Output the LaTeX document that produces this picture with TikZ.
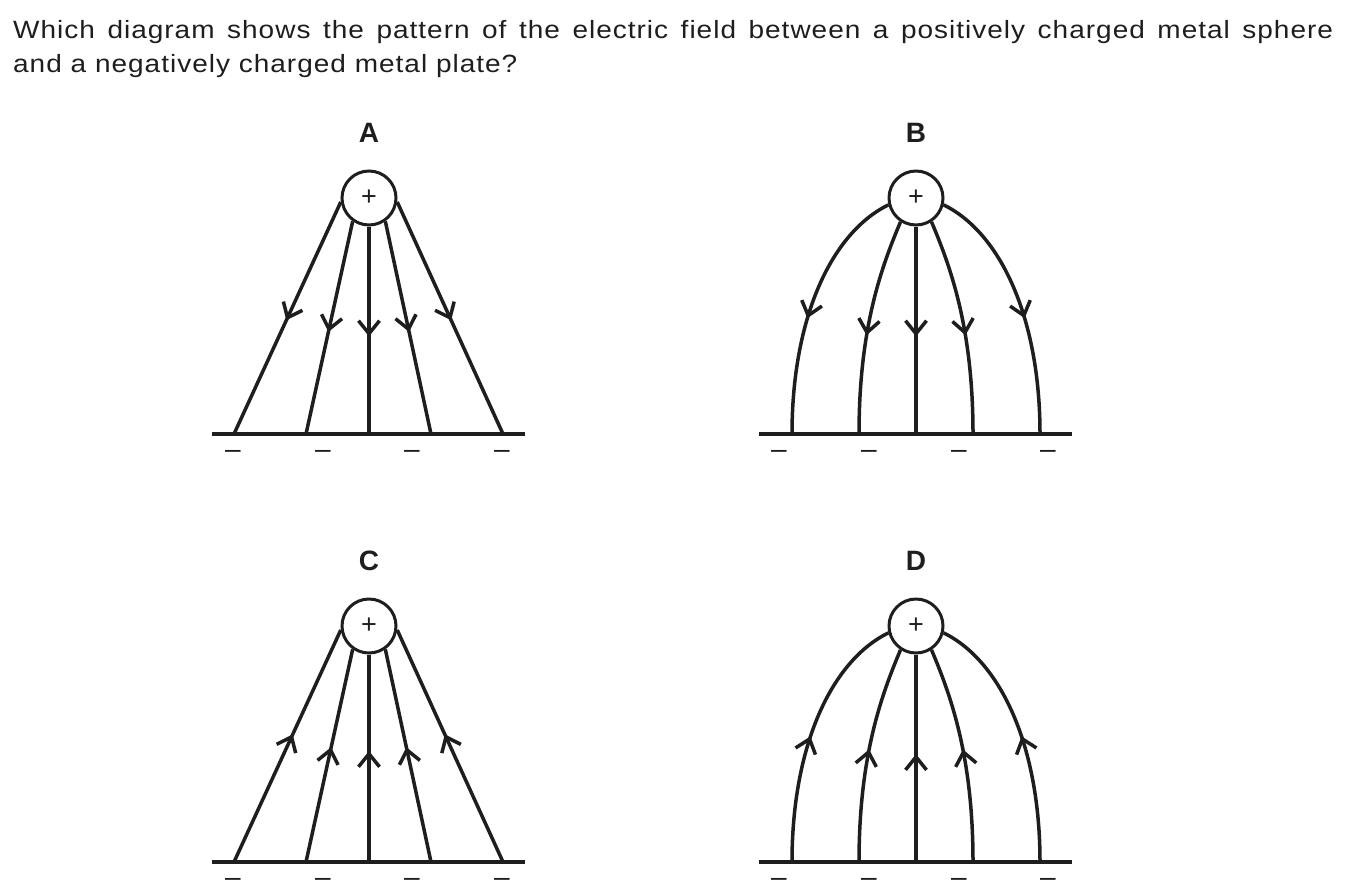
\documentclass[tikz,border=0pt]{standalone}
\usepackage{fontspec}
\setmainfont{Liberation Sans}
\newfontfamily\questionfont[FakeStretch=1.12, LetterSpace=4]{Liberation Sans}
\usetikzlibrary{arrows.meta, decorations.markings}
\definecolor{ink}{RGB}{30,30,30}

\begin{document}
\begin{tikzpicture}[
    x=1pt, y=-1pt,
    color=ink,
    question/.style={anchor=base west, inner sep=0pt, text width=1320pt, align=justify, font=\questionfont\fontsize{25}{34}\selectfont},
    panel/.style={anchor=base, inner sep=0pt, font=\fontsize{28}{28}\selectfont\bfseries},
    sphere/.style={draw, circle, line width=3pt, minimum size=54pt, inner sep=0pt, font=\fontsize{27}{27}\selectfont},
    plate/.style={line width=4pt},
    minus/.style={anchor=base, inner sep=0pt, font=\fontsize{28}{28}\selectfont},
    fielddown/.style={line width=3.5pt, postaction={decorate, decoration={markings, mark=at position #1 with {\arrow{Straight Barb[length=13pt, width=21pt]}}}}},
    fieldup/.style={line width=3.5pt, postaction={decorate, decoration={markings, mark=at position #1 with {\arrowreversed{Straight Barb[length=13pt, width=21pt]}}}}}
]
    \useasboundingbox (0,0) rectangle (1348,895);

    % Question
    \node[question] (q) at (13,38) {Which diagram shows the pattern of the electric field between a positively charged metal sphere\linebreak and a negatively charged metal plate?};

    % A
    \node[panel] (la) at (369,142.5) {A};
    \node[sphere] (sa) at (369,198) {+};
    \draw[plate] (212,434) coordinate (pa1) -- (525,434) coordinate (pa2);
    \path (234,434) coordinate (a1) (306,434) coordinate (a2) (369,434) coordinate (a3) (431,434) coordinate (a4) (503,434) coordinate (a5);
    \draw[fielddown=0.51] (sa.188) -- (a1);
    \draw[fielddown=0.52] (sa.235) -- (a2);
    \draw[fielddown=0.53] (sa.south) -- (a3);
    \draw[fielddown=0.52] (sa.305) -- (a4);
    \draw[fielddown=0.51] (sa.352) -- (a5);
    \node[minus] (ma1) at (233,458) {\textendash};
    \node[minus] (ma2) at (323,458) {\textendash};
    \node[minus] (ma3) at (412,458) {\textendash};
    \node[minus] (ma4) at (502,458) {\textendash};

    % B
    \node[panel] (lb) at (916,142.5) {B};
    \node[sphere] (sb) at (916,198) {+};
    \draw[plate] (759,434) coordinate (pb1) -- (1072,434) coordinate (pb2);
    \path (792,434) coordinate (b1) (859,434) coordinate (b2) (916,434) coordinate (b3) (973,434) coordinate (b4) (1040,434) coordinate (b5);
    \draw[fielddown=0.55] (sb.194) .. controls +(-57,28) and +(0,-116) .. (b1);
    \draw[fielddown=0.545] (sb.237) .. controls +(-19,45) and +(0,-106) .. (b2);
    \draw[fielddown=0.53] (sb.south) -- (b3);
    \draw[fielddown=0.545] (sb.303) .. controls +(19,45) and +(0,-106) .. (b4);
    \draw[fielddown=0.55] (sb.346) .. controls +(57,28) and +(0,-116) .. (b5);
    \node[minus] (mb1) at (779,458) {\textendash};
    \node[minus] (mb2) at (869,458) {\textendash};
    \node[minus] (mb3) at (959,458) {\textendash};
    \node[minus] (mb4) at (1048,458) {\textendash};

    % C
    \node[panel] (lc) at (369,570.5) {C};
    \node[sphere] (sc) at (369,626) {+};
    \draw[plate] (212,862) coordinate (pc1) -- (525,862) coordinate (pc2);
    \path (234,862) coordinate (c1) (306,862) coordinate (c2) (369,862) coordinate (c3) (431,862) coordinate (c4) (503,862) coordinate (c5);
    \draw[fieldup=0.45] (sc.188) -- (c1);
    \draw[fieldup=0.46] (sc.235) -- (c2);
    \draw[fieldup=0.465] (sc.south) -- (c3);
    \draw[fieldup=0.46] (sc.305) -- (c4);
    \draw[fieldup=0.45] (sc.352) -- (c5);
    \node[minus] (mc1) at (233,886) {\textendash};
    \node[minus] (mc2) at (323,886) {\textendash};
    \node[minus] (mc3) at (412,886) {\textendash};
    \node[minus] (mc4) at (502,886) {\textendash};

    % D
    \node[panel] (ld) at (916,570.5) {D};
    \node[sphere] (sd) at (916,626) {+};
    \draw[plate] (759,862) coordinate (pd1) -- (1072,862) coordinate (pd2);
    \path (792,862) coordinate (d1) (859,862) coordinate (d2) (916,862) coordinate (d3) (973,862) coordinate (d4) (1040,862) coordinate (d5);
    \draw[fieldup=0.51] (sd.194) .. controls +(-57,28) and +(0,-116) .. (d1);
    \draw[fieldup=0.48] (sd.237) .. controls +(-19,45) and +(0,-106) .. (d2);
    \draw[fieldup=0.48] (sd.south) -- (d3);
    \draw[fieldup=0.48] (sd.303) .. controls +(19,45) and +(0,-106) .. (d4);
    \draw[fieldup=0.51] (sd.346) .. controls +(57,28) and +(0,-116) .. (d5);
    \node[minus] (md1) at (779,886) {\textendash};
    \node[minus] (md2) at (869,886) {\textendash};
    \node[minus] (md3) at (959,886) {\textendash};
    \node[minus] (md4) at (1048,886) {\textendash};
\end{tikzpicture}
\end{document}
